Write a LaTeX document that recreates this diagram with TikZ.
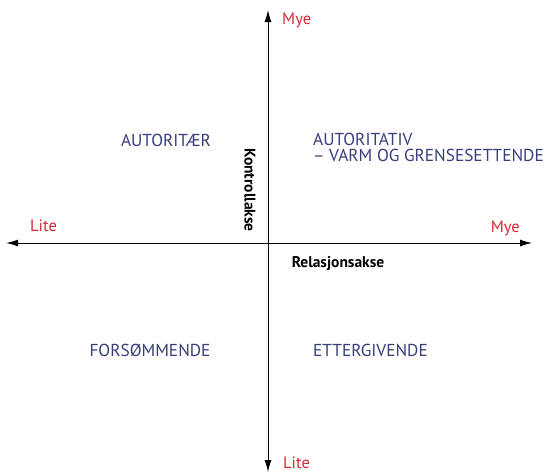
\documentclass[tikz,border=0pt]{standalone}
\usepackage{fontspec}
\setmainfont{PT Sans}
\usetikzlibrary{arrows.meta}

\definecolor{lowhigh}{HTML}{D42A34}
\definecolor{styletext}{HTML}{383D7C}

\tikzset{
    axis/.style={line width=1pt, -{Latex[length=12pt,width=7pt]}},
    endlabel/.style={text=lowhigh, font=\fontsize{16.5}{20}\selectfont, inner sep=0pt},
    axislabel/.style={font=\fontsize{15.5}{18}\selectfont\bfseries, inner sep=0pt},
    stylelabel/.style={text=styletext, font=\fontsize{17.3}{20}\selectfont, inner sep=0pt, align=left}
}

\begin{document}
\begin{tikzpicture}[x=1pt, y=-1pt]
        \useasboundingbox (0, 0) rectangle (548, 474);

        \coordinate (origin) at (268, 243);
        \coordinate (top) at (268, 10);
        \coordinate (bottom) at (268, 472);
        \coordinate (left) at (6, 243);
        \coordinate (right) at (532, 243);

        \draw[axis] (origin) -- (top);
        \draw[axis] (origin) -- (bottom);
        \draw[axis] (origin) -- (left);
        \draw[axis] (origin) -- (right);

        \node[endlabel, anchor=west] (topmye) at (282, 20) {Mye};
        \node[endlabel, anchor=west] (bottomlite) at (283, 463) {Lite};
        \node[endlabel, anchor=west] (leftlite) at (30, 226) {Lite};
        \node[endlabel, anchor=east] (rightmye) at (520, 228) {Mye};

        \node[axislabel, rotate=-90] (kontroll) at (250, 190) {Kontrollakse};
        \node[axislabel] (relasjon) at (338, 264) {Relasjonsakse};

        \node[stylelabel] (autoritaer) at (166, 140) {AUTORITÆR};
        \node[stylelabel, anchor=west] (autoritativ) at (313, 147) {AUTORITATIV\\[-4pt]– VARM OG GRENSESETTENDE};
        \node[stylelabel] (forsommende) at (150, 350) {FORSØMMENDE};
        \node[stylelabel, anchor=west] (ettergivende) at (313, 350) {ETTERGIVENDE};
    \end{tikzpicture}
\end{document}
